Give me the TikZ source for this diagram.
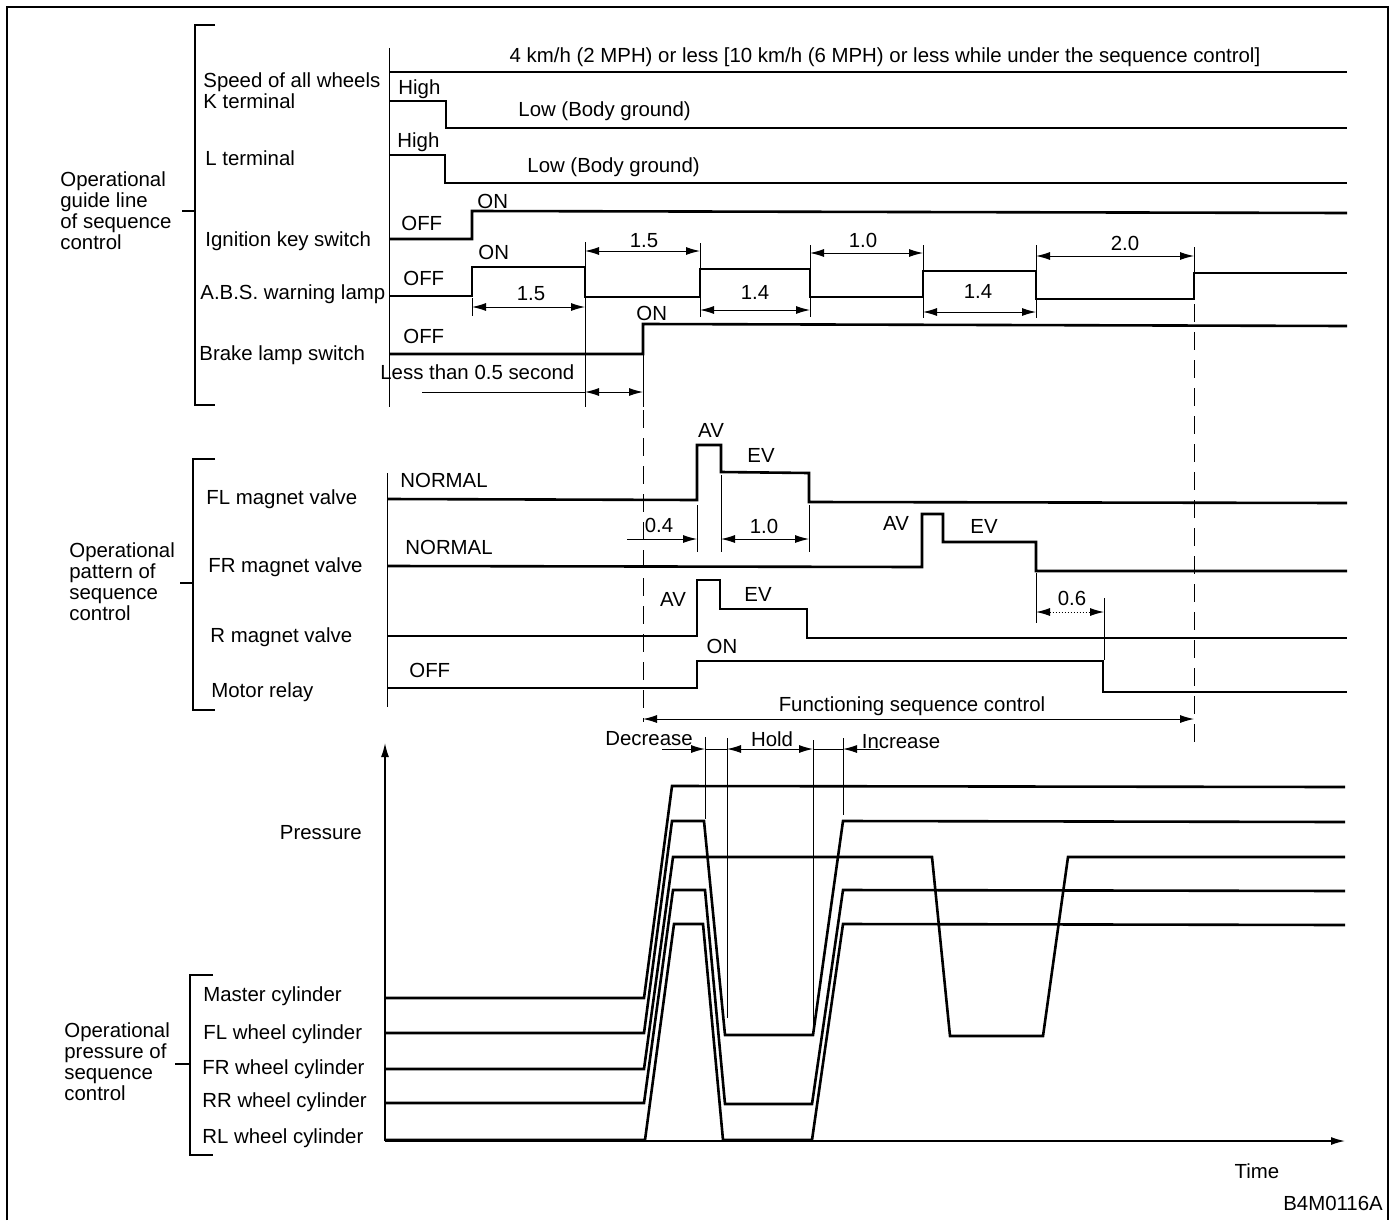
\documentclass[tikz,border=0pt]{standalone}
\usepackage{fontspec}
\setmainfont{Liberation Sans}
\usetikzlibrary{arrows.meta}
\begin{document}
\begin{tikzpicture}[x=0.5pt,y=-0.5pt,
  >={Latex[length=7pt,width=4pt]},
  font=\fontsize{10.2}{12}\selectfont,
  every node/.style={inner sep=0pt},
  sig/.style={line width=1.3pt,line join=miter},
  thn/.style={line width=0.5pt},
  brk/.style={line width=0.6pt},
  dim/.style={line width=0.5pt,<->},
  grp/.style={anchor=west,align=left,font=\fontsize{10.2}{10.5}\selectfont},
  lb/.style={anchor=base west},
  cb/.style={anchor=base}]
\useasboundingbox (0,0) rectangle (1391,1220);
% frame
\draw[line width=1pt] (7,1220) -- (7,7) -- (1388,7) -- (1388,1220);

% ================= TOP SECTION =================
\draw[brk] (215,25) -- (195,25) -- (195,405) -- (215,405);
\draw[brk] (182,211) -- (195,211);
\node[grp] (g1) at (60,211) {Operational\\guide line\\of sequence\\control};
\node[lb] (speed) at (203,88) {Speed of all wheels};
\node[lb] (kterm) at (203,109) {K terminal};
\node[lb] (lterm) at (205,165) {L terminal};
\node[lb] (ign) at (205,246) {Ignition key switch};
\node[lb] (abs) at (200,299) {A.B.S. warning lamp};
\node[lb] (brake) at (199,360) {Brake lamp switch};

\draw[thn] (389,48) -- (389,407);
\node[cb] (spdtxt) at (885,63) {4 km/h (2 MPH) or less [10 km/h (6 MPH) or less while under the sequence control]};
\draw[sig] (389,72) -- (1347,72);
\draw[sig] (389,101) -- (446,101) -- (446,128) -- (1347,128);
\node[lb] (khigh) at (398,95) {High};
\node[lb] (klow) at (518,117) {Low (Body ground)};
\draw[sig] (389,155) -- (445,155) -- (445,183) -- (1347,183);
\node[lb] (lhigh) at (397,148) {High};
\node[lb] (llow) at (527,172) {Low (Body ground)};
\draw[sig] (389,239) -- (472,239) -- (472,211) -- (1347,213);
\node[lb] (ignoff) at (401,230) {OFF};
\node[lb] (ignon) at (477,208) {ON};
\draw[sig] (389,296) -- (472,296) -- (472,267) -- (585,267) -- (585,297) -- (700,297) -- (700,269) -- (810,269) -- (810,297) -- (923,297) -- (923,271) -- (1036,271) -- (1036,299) -- (1194,299) -- (1194,273) -- (1347,273);
\node[lb] (absoff) at (403,285) {OFF};
\node[lb] (abson) at (478,259) {ON};
\draw[sig] (389,354) -- (643,354) -- (643,324) -- (1347,326);
\node[lb] (brkoff) at (403,343) {OFF};
\node[lb] (brkon) at (636,320) {ON};

% extension lines
\draw[thn] (472,298) -- (472,316);
\draw[thn] (585,242) -- (585,407);
\draw[thn] (700,243) -- (700,317);
\draw[thn] (810,245) -- (810,317);
\draw[thn] (923,245) -- (923,318);
\draw[thn] (1036,245) -- (1036,318);
\draw[thn] (1194,247) -- (1194,299);
\draw[thn] (643,354) -- (643,407);
\draw[thn,dash pattern=on 9pt off 5pt] (643,410) -- (643,722);
\draw[thn,dash pattern=on 9pt off 5pt] (1194,304) -- (1194,745);

% dimensions
\draw[dim] (585,251) -- (700,251);
\node[cb] (d15a) at (644,247) {1.5};
\draw[dim] (472,307) -- (585,307);
\node[cb] (d15b) at (531,300) {1.5};
\draw[dim] (700,310) -- (810,310);
\node[cb] (d14a) at (755,299) {1.4};
\draw[dim] (810,253) -- (923,253);
\node[cb] (d10a) at (863,247) {1.0};
\draw[dim] (923,312) -- (1036,312);
\node[cb] (d14b) at (978,298) {1.4};
\draw[dim] (1036,256) -- (1194,256);
\node[cb] (d20) at (1125,250) {2.0};
\node[lb] (less) at (380,379) {Less than 0.5 second};
\draw[thn] (422,392) -- (585,392);
\draw[dim] (585,392) -- (643,392);

% ================= MIDDLE SECTION =================
\draw[brk] (215,459) -- (193,459) -- (193,710) -- (215,710);
\draw[brk] (180,583) -- (193,583);
\node[grp] (g2) at (69,582) {Operational\\pattern of\\sequence\\control};
\node[lb] (flmv) at (206,504) {FL magnet valve};
\node[lb] (frmv) at (208,572) {FR magnet valve};
\node[lb] (rmv) at (210,642) {R magnet valve};
\node[lb] (motor) at (211,697) {Motor relay};
\draw[thn] (387,473) -- (387,707);

\draw[sig] (387,499) -- (697,500) -- (697,445) -- (721,445) -- (721,472) -- (809,473) -- (809,502) -- (1347,503);
\node[lb] (norm1) at (400,487) {NORMAL};
\node[cb] (av1) at (711,437) {AV};
\node[cb] (ev1) at (761,462) {EV};
\draw[sig] (387,566) -- (922,567) -- (922,514) -- (943,514) -- (943,542) -- (1036,542) -- (1036,571) -- (1347,571);
\node[lb] (norm2) at (405,554) {NORMAL};
\node[cb] (av2) at (896,530) {AV};
\node[cb] (ev2) at (984,533) {EV};
\draw[sig] (387,636) -- (697,636) -- (697,580) -- (720,580) -- (720,609) -- (807,609) -- (807,638) -- (1347,638);
\node[cb] (av3) at (673,606) {AV};
\node[cb] (ev3) at (758,601) {EV};
\draw[sig] (387,688) -- (697,688) -- (697,661) -- (1103,661) -- (1103,692) -- (1347,692);
\node[lb] (moff) at (409,677) {OFF};
\node[cb] (mon) at (722,653) {ON};

\draw[thn] (697,505) -- (697,552);
\draw[thn] (721,475) -- (721,552);
\draw[thn] (809,505) -- (809,552);
\draw[thn,->] (627,539) -- (697,539);
\node[cb] (d04) at (659,532) {0.4};
\draw[dim] (721,539) -- (809,539);
\node[cb] (d10b) at (764,533) {1.0};
\draw[thn] (1036,573) -- (1036,623);
\draw[thn] (1104,598) -- (1104,660);
\draw[line width=0.5pt,<->,densely dotted] (1036,612) -- (1104,612);
\node[cb] (d06) at (1072,605) {0.6};
\draw[dim] (643,719) -- (1194,719);
\node[cb] (func) at (912,711) {Functioning sequence control};

% ================= BOTTOM SECTION =================
\draw[brk] (213,975) -- (190,975) -- (190,1155) -- (213,1155);
\draw[brk] (175,1064) -- (190,1064);
\node[grp] (g3) at (64,1062) {Operational\\pressure of\\sequence\\control};
\node[lb] (mc) at (203,1001) {Master cylinder};
\node[lb] (flwc) at (203,1039) {FL wheel cylinder};
\node[lb] (frwc) at (202,1074) {FR wheel cylinder};
\node[lb] (rrwc) at (202,1107) {RR wheel cylinder};
\node[lb] (rlwc) at (202,1143) {RL wheel cylinder};

\draw[line width=0.7pt,->] (385,1141) -- (385,743);
\draw[line width=0.7pt,->] (385,1141) -- (1345,1141);
\node[anchor=base east] (press) at (362,839) {Pressure};
\node[cb] (time) at (1257,1178) {Time};
\node[cb] (code) at (1333,1210) {B4M0116A};

\draw[sig] (385,998) -- (644,998) -- (672,786) -- (1345,787);
\draw[sig] (385,1033) -- (644,1033) -- (672,821) -- (704,821) -- (725,1035) -- (813,1035) -- (843,821) -- (1345,822);
\draw[sig] (385,1069) -- (644,1069) -- (673,857) -- (932,857) -- (950,1036) -- (1043,1036) -- (1068,857) -- (1345,857);
\draw[sig] (385,1103) -- (644,1103) -- (673,890) -- (705,890) -- (725,1104) -- (812,1104) -- (843,890) -- (1345,891);
\draw[sig] (385,1140) -- (645,1140) -- (674,924) -- (703,924) -- (723,1140) -- (812,1140) -- (843,924) -- (1345,925);

% Decrease / Hold / Increase
\draw[thn] (705,737) -- (705,819);
\draw[thn] (727,738) -- (727,1018);
\draw[thn] (813,740) -- (813,1025);
\draw[thn] (843,738) -- (843,815);
\draw[thn,->] (662,749) -- (705,749);
\draw[thn] (705,749) -- (727,749);
\draw[dim] (727,749) -- (813,749);
\draw[thn] (813,749) -- (843,749);
\draw[thn,->] (880,749) -- (843,749);
\node[cb] (decr) at (649,745) {Decrease};
\node[cb] (hold) at (772,746) {Hold};
\node[cb] (incr) at (901,748) {Increase};
\end{tikzpicture}
\end{document}
